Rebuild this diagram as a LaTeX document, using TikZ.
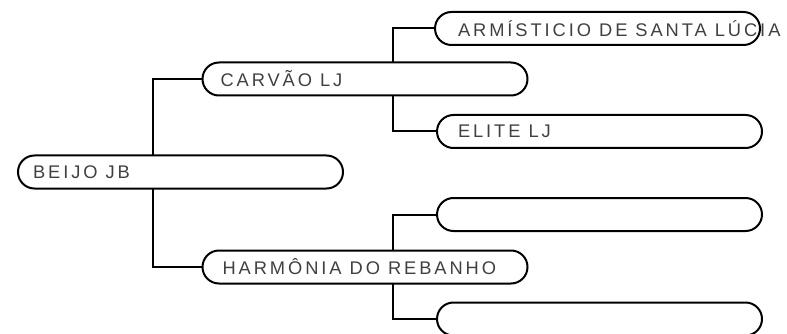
\documentclass[tikz,border=0pt]{standalone}
\usepackage{fontspec}
\newfontfamily\lblfont{Liberation Sans}[LetterSpace=16]
\definecolor{txtgray}{HTML}{404040}
\newcommand{\boxtext}[2]{\makebox[325pt][l]{\hspace*{#1pt}\lblfont\fontsize{18.3}{22}\selectfont\color{txtgray}#2}}
\pgfdeclarelayer{background}
\pgfsetlayers{background,main}
\begin{document}
\begin{tikzpicture}[x=1pt,y=-1pt,
  pill/.style={draw=black, line width=2pt, fill=white, rounded corners=16.5pt,
    minimum width=325pt, minimum height=33pt, inner xsep=0pt, inner ysep=0pt},
  conn/.style={draw=black, line width=2pt}]
\useasboundingbox (0,0) rectangle (787,334);
% boxes
\node[pill] (root) at (180.5,172) {\boxtext{15}{BEIJO JB}};
\node[pill] (carvao) at (365,79) {\boxtext{18}{CARVÃO LJ}};
\node[pill] (harm) at (365,267) {\boxtext{20}{HARMÔNIA DO REBANHO}};
\node[pill] (arm) at (597.5,28.5) {\boxtext{23}{ARMÍSTICIO DE SANTA LÚCIA}};
\node[pill] (elite) at (599.5,131.5) {\boxtext{21}{ELITE LJ}};
\node[pill] (e1) at (599.5,214.5) {\boxtext{20}{}};
\node[pill] (e2) at (599.5,319) {\boxtext{20}{}};
% junction coordinates
\coordinate (j1) at (153,172);
\coordinate (j2) at (393,79);
\coordinate (j3) at (393,267);
% connectors behind the boxes
\begin{pgfonlayer}{background}
\draw[conn] (carvao.west) -| (j1) |- (harm.west);
\draw[conn] (arm.west) -| (j2) |- (elite.west);
\draw[conn] (e1.west) -| (j3) |- (e2.west);
\end{pgfonlayer}
\end{tikzpicture}
\end{document}
